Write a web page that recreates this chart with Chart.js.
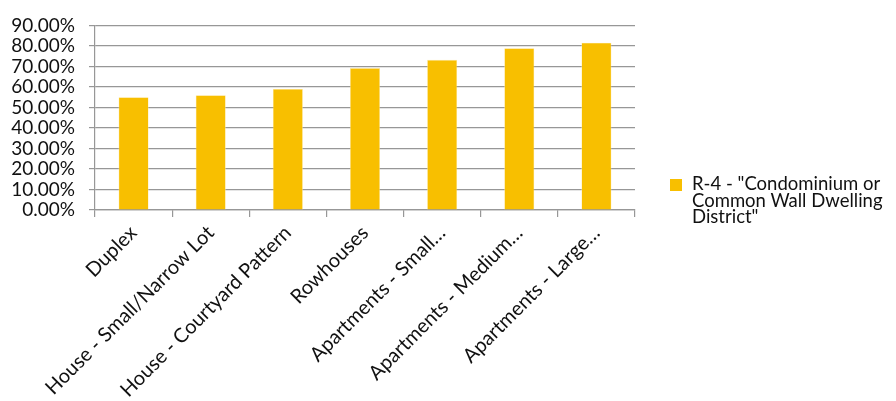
<!DOCTYPE html>
<html>
<head>
<meta charset="utf-8">
<script src="https://cdn.jsdelivr.net/npm/chart.js@4.4.1/dist/chart.umd.min.js"></script>
<style>
  html, body { margin: 0; padding: 0; background: #fff; }
  #wrap { position: relative; width: 896px; height: 401px; }
  #legend {
    position: absolute; left: 670px; top: 175px;
    font-family: Lato, sans-serif; font-size: 18.5px; line-height: 16.5px; color: #111;
  }
  #legend .item { display: flex; align-items: flex-start; }
  #legend .swatch { width: 12px; height: 12px; background: #F8BF00; margin: 4px 10px 0 0; flex: none; }
</style>
</head>
<body>
<div id="wrap">
  <canvas id="c" width="896" height="401"></canvas>
  <div id="legend"></div>
</div>
<script>
// Share of lots per building type under the R-4 district
const categories = [
  "Duplex",
  "House - Small/Narrow Lot",
  "House - Courtyard Pattern",
  "Rowhouses",
  "Apartments - Small\u2026",
  "Apartments - Medium\u2026",
  "Apartments - Large\u2026"
];
const seriesName = "R-4 - \"Condominium or\nCommon Wall Dwelling\nDistrict\"";
const r4Values = [0.55, 0.56, 0.59, 0.692, 0.732, 0.789, 0.816];
const yTicks = [0, 0.1, 0.2, 0.3, 0.4, 0.5, 0.6, 0.7, 0.8, 0.9];

const gold = "#F8BF00";
const gridGray = "#979797";

new Chart(document.getElementById("c"), {
  type: "bar",
  data: {
    labels: categories,
    datasets: [{
      label: seriesName,
      data: r4Values,
      backgroundColor: gold,
      borderColor: "#FCE9A8",
      borderWidth: 0.6,
      barPercentage: 0.39,
      categoryPercentage: 1.0
    }]
  },
  options: {
    responsive: false,
    animation: false,
    layout: { padding: { top: 20, right: 261, left: 0, bottom: 0 } },
    plugins: { legend: { display: false }, tooltip: { enabled: false } },
    scales: {
      x: {
        offset: true,
        grid: {
          offset: true,
          drawOnChartArea: false,
          drawTicks: true,
          tickLength: 7,
          color: gridGray,
          lineWidth: 1.2
        },
        border: { color: gridGray, width: 1.2 },
        ticks: {
          font: { family: "Lato, sans-serif", size: 20 },
          color: "#111",
          minRotation: 45,
          maxRotation: 45,
          padding: 4,
          autoSkip: false
        },
        afterFit: s => { s.height = 191; }
      },
      y: {
        min: 0,
        max: 0.9,
        afterBuildTicks: s => { s.ticks = yTicks.map(v => ({ value: v })); },
        grid: {
          color: gridGray,
          lineWidth: 1.2,
          tickLength: 6
        },
        border: { color: gridGray, width: 1.2 },
        ticks: {
          font: { family: "Lato, sans-serif", size: 19 },
          color: "#111",
          padding: 14,
          autoSkip: false,
          callback: v => (v * 100).toFixed(2) + "%"
        },
        afterFit: s => { s.width = 95; }
      }
    }
  }
});

// Legend entry with the wrapped series name
const legend = document.getElementById("legend");
const item = document.createElement("div");
item.className = "item";
const sw = document.createElement("span");
sw.className = "swatch";
const txt = document.createElement("span");
txt.innerHTML = seriesName.split("\n").map(s => s.replace(/&/g, "&amp;").replace(/</g, "&lt;")).join("<br>");
item.appendChild(sw);
item.appendChild(txt);
legend.appendChild(item);
</script>
</body>
</html>
